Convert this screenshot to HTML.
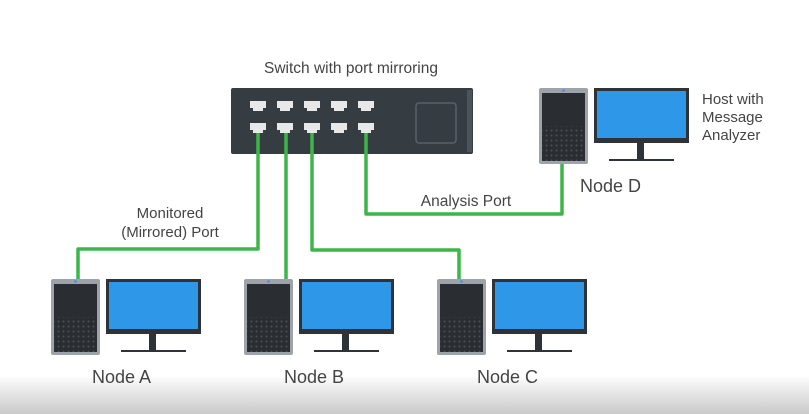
<!DOCTYPE html>
<html><head><style>
html,body{margin:0;padding:0;background:#fff;}
svg{display:block;}
text{font-family:"Liberation Sans",sans-serif;fill:#444;}
</style></head><body>
<svg width="809" height="414" viewBox="0 0 809 414" xmlns="http://www.w3.org/2000/svg">
<defs>
<linearGradient id="bg" x1="0" y1="0" x2="0" y2="1">
<stop offset="0" stop-color="#ffffff"/><stop offset="1" stop-color="#c9c9c9"/>
</linearGradient>
<pattern id="dots" width="5" height="5" patternUnits="userSpaceOnUse">
<rect width="5" height="5" fill="#2a2e33"/><circle cx="2.5" cy="2.5" r="1" fill="#4a5058"/>
</pattern>
<g id="node">
<rect x="0" y="0" width="49" height="76" rx="2" fill="#9ea3aa"/>
<rect x="3" y="5" width="43" height="68" fill="#2a2e33"/>
<rect x="3" y="38" width="43" height="35" fill="url(#dots)"/>
<circle cx="24.5" cy="2.5" r="1.3" fill="#4a8be0"/>
<rect x="55" y="0" width="95" height="55" fill="#2d3338"/>
<rect x="58" y="3" width="89" height="47" fill="#2f97e8"/>
<rect x="98" y="55" width="7" height="17" fill="#2d3338"/>
<rect x="70" y="71" width="65" height="2" fill="#2d3338"/>
</g>
</defs>
<rect x="0" y="375" width="809" height="39" fill="url(#bg)"/>
<text x="351" y="73" font-size="15.5" text-anchor="middle">Switch with port mirroring</text>
<rect x="231" y="88" width="242" height="66" rx="2" fill="#353d42"/>
<rect x="467" y="90" width="5" height="62" fill="#4a545a"/>
<rect x="416" y="103" width="40" height="40" rx="3" fill="none" stroke="#56626a" stroke-width="1.5"/>
<g fill="#e8e8e8">
<g id="port"><rect x="250" y="101" width="16" height="7"/><rect x="253" y="108" width="10" height="3"/></g>
<use href="#port" x="27"/><use href="#port" x="54"/><use href="#port" x="81"/><use href="#port" x="108"/>
<use href="#port" y="22"/><use href="#port" x="27" y="22"/><use href="#port" x="54" y="22"/><use href="#port" x="81" y="22"/><use href="#port" x="108" y="22"/>
</g>
<g fill="none" stroke="#3db54a" stroke-width="3.5" stroke-linejoin="round">
<path d="M258 133 V249 H78 V280"/>
<path d="M286 133 V279"/>
<path d="M312 133 V250 H459 V280"/>
<path d="M366 133 V214 H562 V163"/>
</g>
<use href="#node" x="51" y="279"/>
<use href="#node" x="244" y="279"/>
<use href="#node" x="437" y="279"/>
<use href="#node" x="539" y="88"/>
<text x="170" y="218" font-size="15" text-anchor="middle">Monitored</text>
<text x="170" y="237" font-size="15" text-anchor="middle">(Mirrored) Port</text>
<text x="466" y="206" font-size="15.5" text-anchor="middle">Analysis Port</text>
<text x="702" y="104" font-size="15">Host with</text>
<text x="702" y="122" font-size="15">Message</text>
<text x="702" y="140" font-size="15">Analyzer</text>
<text x="580" y="192" font-size="18">Node D</text>
<text x="92" y="383" font-size="18">Node A</text>
<text x="284" y="383" font-size="18">Node B</text>
<text x="477" y="383" font-size="18">Node C</text>
</svg>
</body></html>
